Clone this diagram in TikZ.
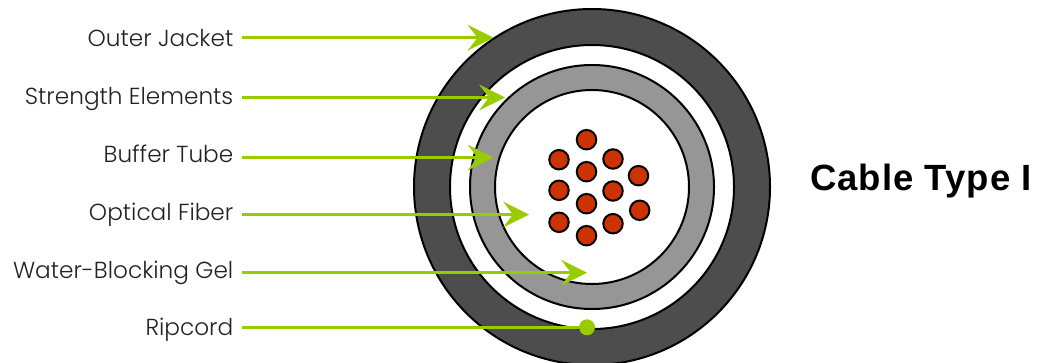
\documentclass[tikz,border=0pt]{standalone}
\usepackage{fontspec}
\setmainfont{Poppins Light}
\newfontfamily\titlefont[LetterSpace=2.8]{Liberation Sans}
\usetikzlibrary{arrows.meta}
\definecolor{lime}{HTML}{99CC00}
\definecolor{jacket}{HTML}{4D4D4D}
\definecolor{tube}{HTML}{969696}
\definecolor{fiber}{HTML}{CC3300}
\definecolor{ink}{HTML}{222222}
\tikzset{
  x=1pt,y=-1pt,
  disc/.style={circle,draw=black,line width=2pt,inner sep=0pt,outer sep=0pt},
  fib/.style={disc,fill=fiber,minimum size=19.5pt},
  lbl/.style={anchor=base east,inner xsep=8.5pt,inner ysep=0pt,text=ink,font=\fontsize{23.2}{26}\selectfont},
  pointer/.style={draw=lime,line width=3pt,-{Stealth[length=26pt,width=26pt,inset=10pt,line width=0pt]}},
  cordline/.style={draw=lime,line width=3pt},
}
\begin{document}
\begin{tikzpicture}
\useasboundingbox (0,0) rectangle (1040,362);
\clip (0,0) rectangle (1040,362);
\node[disc,fill=jacket,minimum size=356pt] (outer) at (592,187) {};
\node[disc,fill=white,minimum size=284pt] (gel) at (592,187) {};
\node[disc,fill=tube,minimum size=244pt] (buffer) at (592,187) {};
\node[disc,fill=white,minimum size=194pt] (core) at (592,187) {};
\node[fib] (f1) at (586.5,139.7) {};
\node[fib] (f2) at (559,159.7) {};
\node[fib] (f3) at (613,159) {};
\node[fib] (f4) at (586.5,171.7) {};
\node[fib] (f5) at (638.5,175.7) {};
\node[fib] (f6) at (559,190.3) {};
\node[fib] (f7) at (613,191) {};
\node[fib] (f8) at (586.5,203.7) {};
\node[fib] (f9) at (639.7,210.3) {};
\node[fib] (f10) at (559,222.3) {};
\node[fib] (f11) at (613,223.7) {};
\node[fib] (f12) at (586.5,235.7) {};
\coordinate (t1) at (493.5,37.7);
\coordinate (t2) at (505,97.5);
\coordinate (t3) at (493.5,157.5);
\coordinate (t4) at (529,214.5);
\coordinate (t5) at (587,272.7);
\node[lbl] (a1) at (242,46) {Outer Jacket};
\node[lbl] (a2) at (242,104) {Strength Elements};
\node[lbl] (a3) at (242,162.3) {Buffer Tube};
\node[lbl] (a4) at (242,220) {Optical Fiber};
\node[lbl] (a5) at (242,278) {Water-Blocking Gel};
\node[lbl] (a6) at (242,335) {Ripcord};
\draw[pointer] (a1.east |- t1) -- (t1);
\draw[pointer] (a2.east |- t2) -- (t2);
\draw[pointer] (a3.east |- t3) -- (t3);
\draw[pointer] (a4.east |- t4) -- (t4);
\draw[pointer] (a5.east |- t5) -- (t5);
\node[circle,fill=lime,minimum size=16pt,inner sep=0pt] (rip) at (587,327.3) {};
\draw[cordline] (a6.east |- rip) -- (rip);
\node[anchor=base west,inner sep=0pt,font=\titlefont\bfseries\fontsize{36.5}{40}\selectfont,text=black] (title) at (810,190) {Cable Type I};
\end{tikzpicture}
\end{document}
